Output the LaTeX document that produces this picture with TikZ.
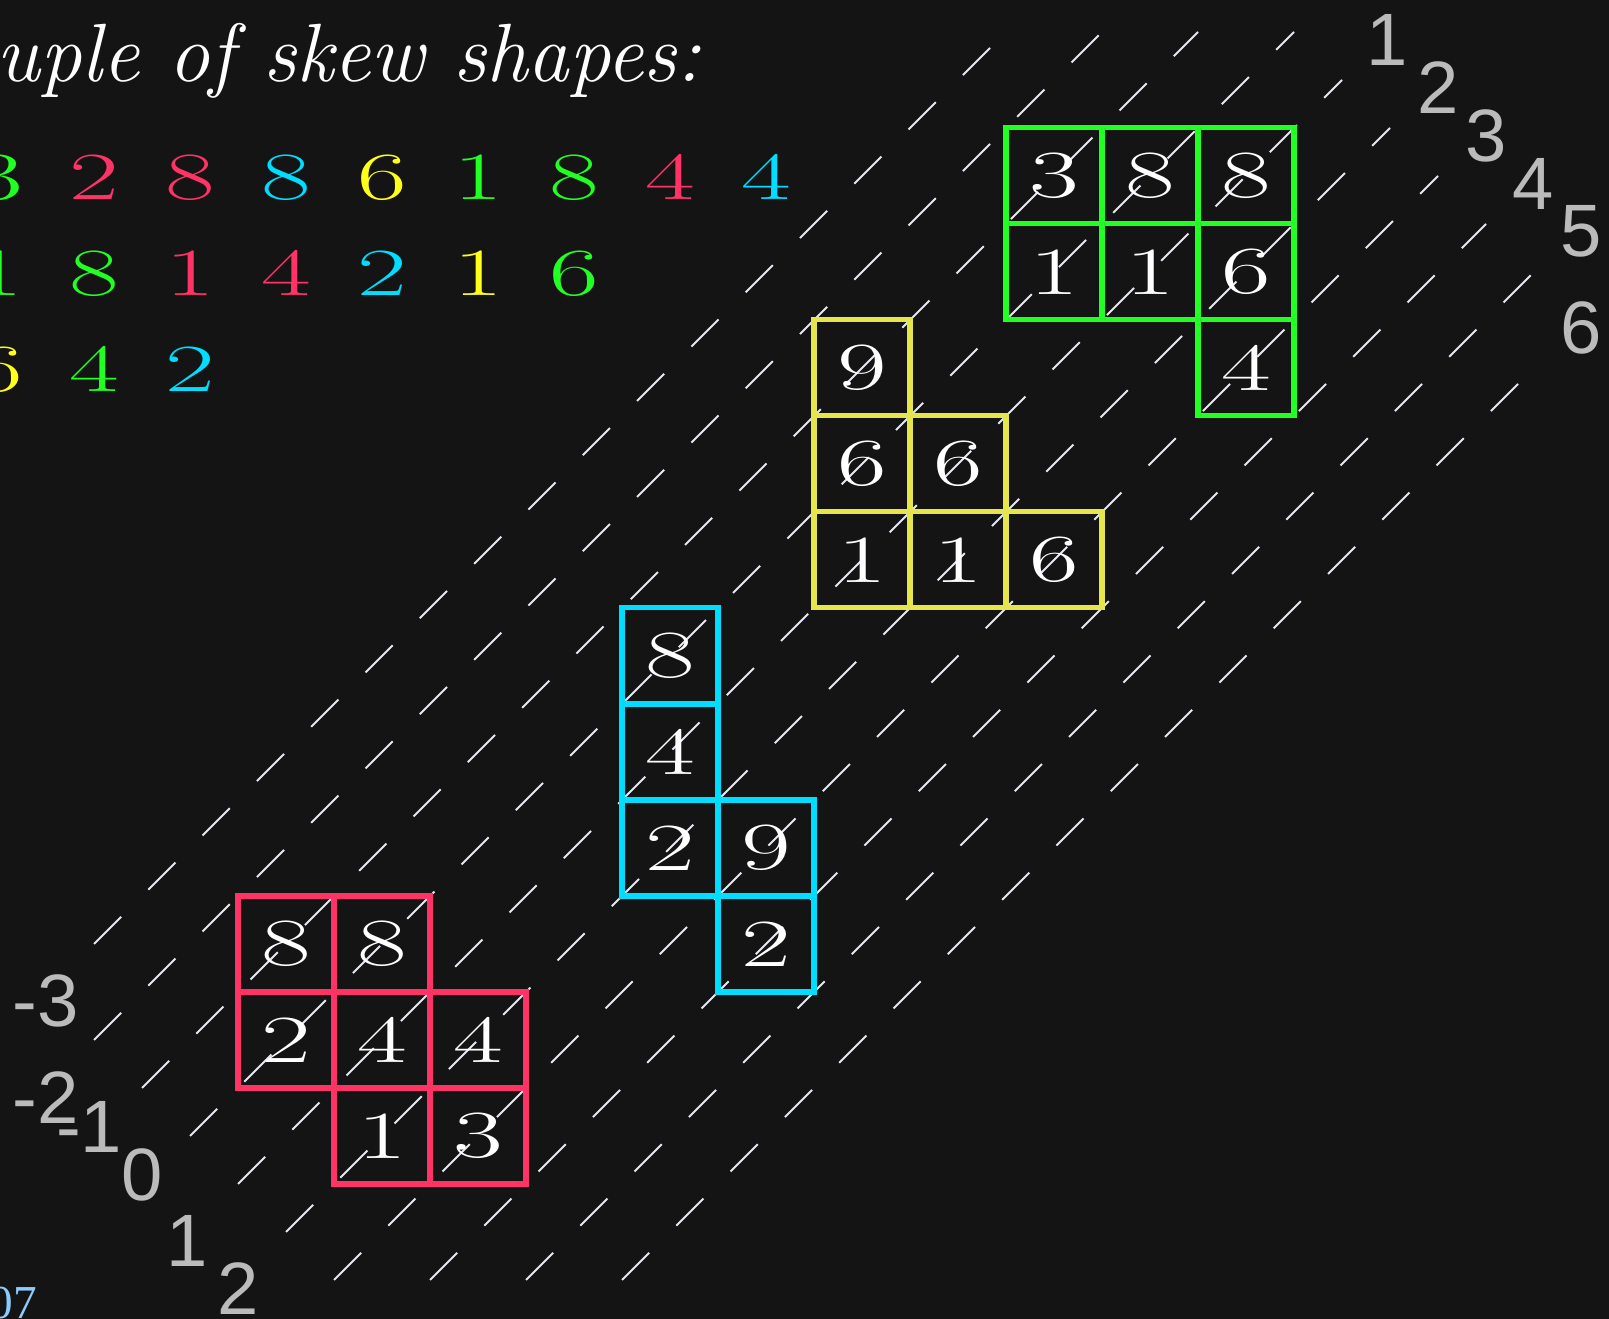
\documentclass[tikz,border=0pt]{standalone}
\usepackage{fontspec}
\usepackage{graphicx}
\newfontfamily\labelfont{Liberation Sans}
\newfontfamily\footfont{Liberation Serif}
\usetikzlibrary{positioning}

\definecolor{bgdark}{HTML}{141414}
\definecolor{tabred}{HTML}{FF3366}
\definecolor{tabcyan}{HTML}{00DDFF}
\definecolor{tabyellow}{HTML}{E5E54C}
\definecolor{wordyellow}{HTML}{FFFF1A}
\definecolor{tabgreen}{HTML}{22FF22}
\definecolor{diaggray}{HTML}{BBBBBB}
\definecolor{dashwhite}{HTML}{E6E6F0}
\definecolor{footblue}{HTML}{8CCBFF}

\newcommand{\wdig}[1]{\scalebox{1.6}[1]{#1}}

\tikzset{
  cell/.style={draw=#1, line width=1.5pt, minimum size=1cm, inner sep=0pt, outer sep=0pt,
    text=white, font=\fontsize{20}{20}\selectfont},
  wordnum/.style={text=#1, anchor=base, inner sep=0pt, font=\fontsize{20}{20}\selectfont},
  diaglabel/.style={text=diaggray, inner sep=0pt, font=\labelfont\fontsize{22}{22}\selectfont},
  diagline/.style={draw=dashwhite, line width=0.6pt, dash pattern=on 4mm off 4mm},
}

\begin{document}
\begin{tikzpicture}
\coordinate (sw) at (-2.479,-4.406);
\coordinate (ne) at (14.281,9.333);
\useasboundingbox (sw) rectangle (ne);
\clip (sw) rectangle (ne);
\fill[bgdark] (sw) rectangle (ne);

\node[anchor=base west, inner sep=0pt, text=white, font=\fontsize{24.5}{24.5}\selectfont\itshape]
  (title) at (-2.52,8.48) {uple of skew shapes:};

\foreach \x/\v/\col [count=\i] in {-2.5/3/tabgreen, -1.5/2/tabred, -0.5/8/tabred, 0.5/8/tabcyan,
    1.5/6/wordyellow, 2.5/1/tabgreen, 3.5/8/tabgreen, 4.5/4/tabred, 5.5/4/tabcyan}
  \node[wordnum=\col] (wa\i) at (\x,7.25) {\wdig{\v}};
\foreach \x/\v/\col [count=\i] in {-2.5/1/tabgreen, -1.5/8/tabgreen, -0.5/1/tabred, 0.5/4/tabred,
    1.5/2/tabcyan, 2.5/1/wordyellow, 3.5/6/tabgreen}
  \node[wordnum=\col] (wb\i) at (\x,6.25) {\wdig{\v}};
\foreach \x/\v/\col [count=\i] in {-2.5/6/wordyellow, -1.5/4/tabgreen, -0.5/2/tabcyan}
  \node[wordnum=\col] (wc\i) at (\x,5.25) {\wdig{\v}};

\foreach \c/\s/\e in {-1/-1.5/8, 0/-1.5/9, 1/-1/10, 2/-0.5/11, 3/0/11.5, 4/0.5/12,
    5/1/12.5, 6/2/13, 7/3/13.5, 8/4/13.5} {
  \coordinate (lo\c) at (\s,\s-\c);
  \coordinate (hi\c) at (\e,\e-\c);
  \draw[diagline] (lo\c) -- (hi\c);
}

\foreach \x/\y/\t [count=\i] in {11.97/8.92/1, 12.5/8.42/2, 13.0/7.92/3, 13.49/7.42/4,
    13.99/6.92/5, 13.99/5.92/6}
  \node[diaglabel] (ctop\i) at (\x,\y) {\t};
\foreach \x/\y/\t [count=\i] in {-2.0/-1.09/-3, -2.0/-2.1/-2, -1.55/-2.41/-1, -1.0/-2.91/0,
    -0.53/-3.59/1, 0.0/-4.09/2}
  \node[diaglabel] (cbot\i) at (\x,\y) {\t};

\foreach \x/\y/\v [count=\i] in {0.5/-0.5/8, 1.5/-0.5/8, 0.5/-1.5/2, 1.5/-1.5/4, 2.5/-1.5/4,
    1.5/-2.5/1, 2.5/-2.5/3}
  \node[cell=tabred] (red\i) at (\x,\y) {\wdig{\v}};
\foreach \x/\y/\v [count=\i] in {4.5/2.5/8, 4.5/1.5/4, 4.5/0.5/2, 5.5/0.5/9, 5.5/-0.5/2}
  \node[cell=tabcyan] (cyan\i) at (\x,\y) {\wdig{\v}};
\foreach \x/\y/\v [count=\i] in {6.5/5.5/9, 6.5/4.5/6, 7.5/4.5/6, 6.5/3.5/1, 7.5/3.5/1, 8.5/3.5/6}
  \node[cell=tabyellow] (yel\i) at (\x,\y) {\wdig{\v}};
\foreach \x/\y/\v [count=\i] in {8.5/7.5/3, 9.5/7.5/8, 10.5/7.5/8, 8.5/6.5/1, 9.5/6.5/1,
    10.5/6.5/6, 10.5/5.5/4}
  \node[cell=tabgreen] (grn\i) at (\x,\y) {\wdig{\v}};

\node[anchor=base west, inner sep=0pt, text=footblue, font=\footfont\fontsize{14}{14}\selectfont]
  (foot) at (-2.594,-4.406) {07};
\end{tikzpicture}
\end{document}
